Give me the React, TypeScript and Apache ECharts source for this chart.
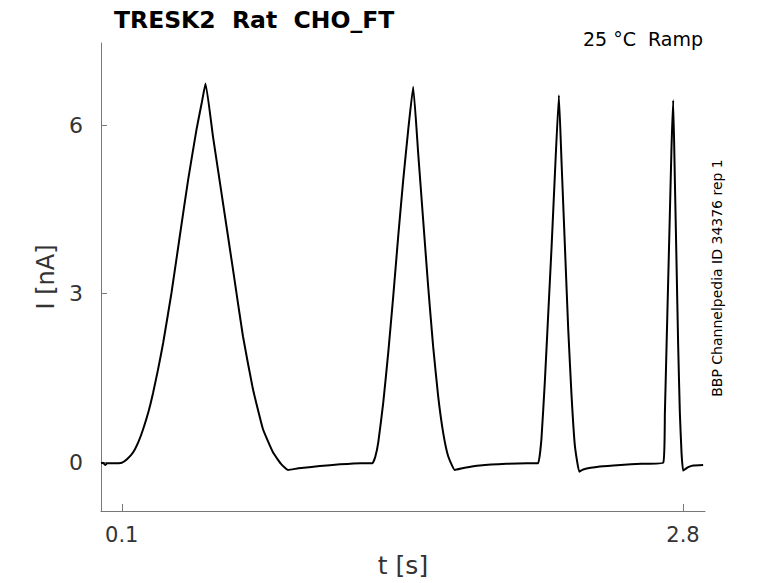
import React, { useEffect, useRef } from "react";
import * as echarts from "echarts";

const titleText = "TRESK2  Rat  CHO_FT";
const conditionText = "25 °C  Ramp";
const sideText = "BBP Channelpedia ID 34376 rep 1";
const xTicks = [0.1, 2.8];
const yTicks = [0, 3, 6];

const timeS = [
  0.0, 0.01, 0.02, 0.03, 0.06, 0.1, 0.125, 0.154, 0.18, 0.203, 0.23, 0.251, 0.275, 0.299, 0.339, 0.379,
  0.419, 0.459, 0.485, 0.503, 0.539, 0.587, 0.635, 0.683, 0.731, 0.779, 0.828, 0.868, 0.9, 0.95, 1.053,
  1.15, 1.25, 1.306, 1.32, 1.334, 1.358, 1.382, 1.406, 1.43, 1.454, 1.478, 1.502, 1.526, 1.55, 1.574,
  1.598, 1.622, 1.646, 1.67, 1.702, 1.75, 1.823, 1.95, 2.05, 2.103, 2.119, 2.136, 2.152, 2.168, 2.184,
  2.203, 2.216, 2.232, 2.248, 2.264, 2.28, 2.301, 2.32, 2.4, 2.5, 2.6, 2.705, 2.713, 2.721, 2.729, 2.737,
  2.745, 2.753, 2.761, 2.769, 2.777, 2.785, 2.793, 2.801, 2.825, 2.849, 2.897,
];
const currentNA = [
  -0.02, -0.01, -0.05, -0.02, -0.02, -0.01, 0.05, 0.17, 0.36, 0.59, 0.92, 1.24, 1.66, 2.12, 3.01, 4.02,
  5.02, 5.91, 6.4, 6.74, 5.79, 4.61, 3.43, 2.24, 1.3, 0.59, 0.17, -0.04, -0.14, -0.11, -0.07,
  -0.04, -0.02, -0.02, 0.1, 0.35, 1.06, 1.95, 2.95, 4.02, 5.02, 5.91, 6.68, 5.5, 4.31, 3.13,
  2.06, 1.18, 0.53, 0.11, -0.14, -0.1, -0.06, -0.03, -0.02, -0.02, 0.41, 1.47, 2.66, 3.84, 5.14,
  6.53, 5.32, 3.84, 2.36, 1.18, 0.29, -0.17, -0.13, -0.08, -0.05, -0.03, -0.01, 0.88, 2.06, 3.25, 4.43,
  5.62, 6.44, 5.02, 3.55, 2.06, 0.88, 0.17, -0.15, -0.09, -0.06, -0.05,
];

const FONT = "DejaVu Sans";

export default function App() {
  const ref = useRef<HTMLDivElement>(null);
  useEffect(() => {
    if (!ref.current) return;
    const chart = echarts.init(ref.current, undefined, { renderer: "svg" });
    const data = timeS.map((t, i) => [t, currentNA[i]]);
    chart.setOption({
      animation: false,
      backgroundColor: "#ffffff",
      grid: { left: 101, right: 73, top: 43, bottom: 71, containLabel: false },
      title: {
        text: titleText,
        left: 109,
        top: 3,
        textStyle: { fontFamily: FONT, fontSize: 23.5, fontWeight: "bold", color: "#000" },
      },
      graphic: [
        {
          type: "text",
          right: 75,
          top: 29,
          style: { text: conditionText, font: `19px "${FONT}"`, fill: "#000" },
        },
        {
          type: "text",
          x: 717,
          y: 278,
          rotation: Math.PI / 2,
          style: {
            text: sideText,
            font: `14px "${FONT}"`,
            fill: "#000",
            align: "center",
            verticalAlign: "middle",
          },
        },
      ],
      xAxis: {
        type: "value",
        min: 0,
        max: 2.906,
        name: "t [s]",
        nameLocation: "middle",
        nameGap: 42,
        nameTextStyle: { fontFamily: FONT, fontSize: 25, color: "#333" },
        axisLine: { show: true, onZero: false, lineStyle: { color: "#777", width: 1 } },
        axisTick: { show: true, inside: true, length: 7, customValues: xTicks, lineStyle: { color: "#777" } },
        axisLabel: {
          customValues: xTicks,
          margin: 13,
          fontFamily: FONT,
          fontSize: 21,
          color: "#333",
          formatter: (v: number) => v.toFixed(1),
        },
        splitLine: { show: false },
      },
      yAxis: {
        type: "value",
        min: -0.87,
        max: 7.46,
        name: "I [nA]",
        nameLocation: "middle",
        nameGap: 39,
        nameTextStyle: { fontFamily: FONT, fontSize: 24, color: "#333" },
        axisLine: { show: true, onZero: false, lineStyle: { color: "#777", width: 1 } },
        axisTick: { show: true, inside: true, length: 6, customValues: yTicks, lineStyle: { color: "#777" } },
        axisLabel: {
          customValues: yTicks,
          margin: 18,
          fontFamily: FONT,
          fontSize: 22,
          color: "#333",
        },
        splitLine: { show: false },
      },
      series: [
        {
          type: "line",
          data,
          showSymbol: false,
          symbol: "none",
          smooth: 0.12,
          lineStyle: { color: "#000", width: 2 },
        },
      ],
    });
    return () => chart.dispose();
  }, []);
  return <div ref={ref} style={{ width: 778, height: 583, position: "absolute", left: 0, top: 0 }} />;
}
